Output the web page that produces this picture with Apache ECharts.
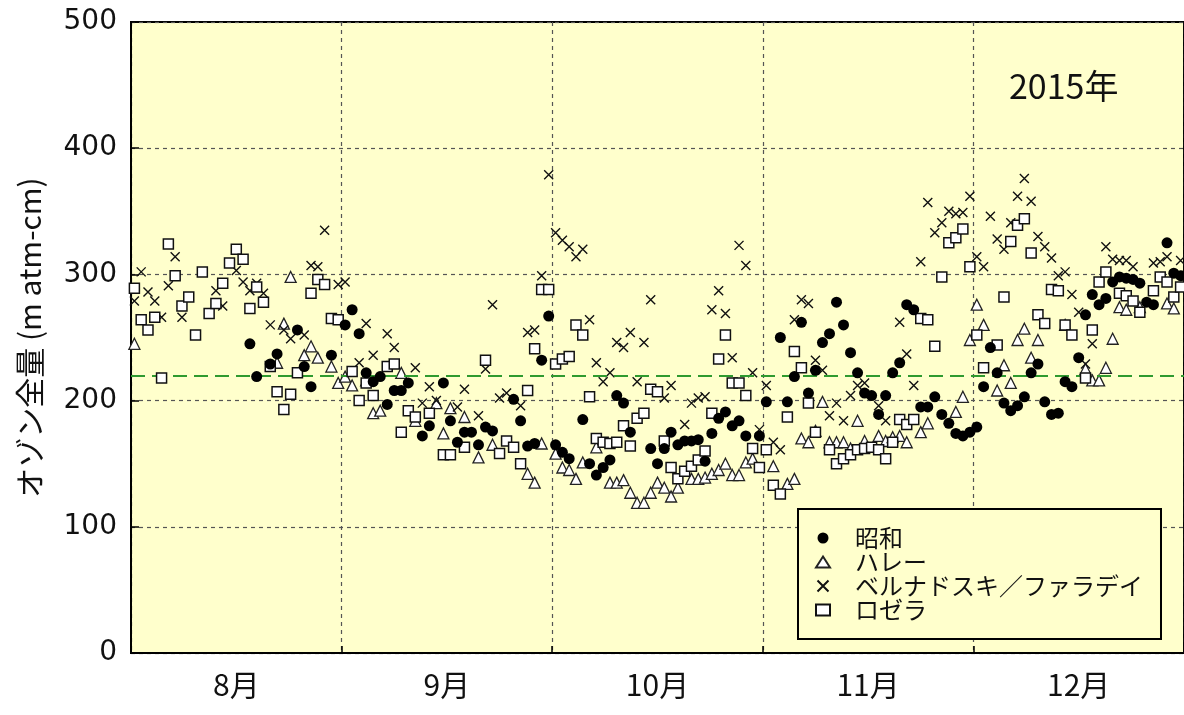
<!DOCTYPE html>
<html><head><meta charset="utf-8">
<script src="https://cdn.jsdelivr.net/npm/echarts@6/dist/echarts.min.js"></script>
<style>html,body{margin:0;padding:0;background:#fff}#c{width:1184px;height:715px}</style>
</head><body><div id="c"></div>
<script>
// month labels for the x axis (Aug..Dec 2015)
const monthLabels = ['8月','9月','10月','11月','12月'];
const monthNums = [8,9,10,11,12];
const daysIn = {8:31,9:30,10:31,11:30,12:31};
const yTicks = [0,100,200,300,400,500];
const refLevel = 220;
const yearLabel = '2015年';
const seriesNames = ['昭和','ハレー','ベルナドスキ／ファラデイ','ロゼラ'];

// [month, day, total ozone (m atm-cm)]
const showa = [
[8,18,245],[8,19,219],[8,21,229],[8,22,237],[8,25,256],[8,26,227],[8,27,211],[8,30,236],
[9,1,260],[9,2,272],[9,3,253],[9,4,222],[9,5,215],[9,6,219],[9,7,197],[9,8,208],[9,9,208],[9,10,214],[9,12,172],[9,13,180],[9,15,214],[9,16,184],[9,17,167],[9,18,175],[9,19,175],[9,20,165],[9,21,179],[9,22,176],[9,25,201],[9,26,184],[9,27,164],[9,28,166],[9,29,232],[9,30,267],
[10,1,165],[10,2,159],[10,3,154],[10,5,185],[10,6,150],[10,7,141],[10,8,147],[10,9,153],[10,10,204],[10,11,198],[10,12,175],[10,15,162],[10,16,150],[10,17,162],[10,18,175],[10,19,165],[10,20,168],[10,21,168],[10,22,169],[10,23,152],[10,24,174],[10,25,186],[10,26,191],[10,27,180],[10,28,184],[10,29,172],[10,31,172],
[11,1,199],[11,3,250],[11,4,199],[11,5,219],[11,6,262],[11,7,206],[11,8,224],[11,9,246],[11,10,253],[11,11,278],[11,12,260],[11,13,238],[11,14,222],[11,15,206],[11,16,204],[11,17,189],[11,18,204],[11,19,222],[11,20,230],[11,21,276],[11,22,272],[11,23,195],[11,24,195],[11,25,203],[11,26,189],[11,27,182],[11,28,174],[11,29,172],[11,30,175],
[12,1,179],[12,2,211],[12,3,242],[12,4,222],[12,5,198],[12,6,192],[12,7,196],[12,8,203],[12,9,222],[12,10,229],[12,11,199],[12,12,189],[12,13,190],[12,14,215],[12,15,211],[12,16,234],[12,17,268],[12,18,284],[12,19,276],[12,20,281],[12,21,294],[12,22,298],[12,23,297],[12,24,296],[12,25,293],[12,26,278],[12,27,276],[12,29,325],[12,30,301],[12,31,299]
];
const halley = [
[8,1,245],[8,22,230],[8,23,261],[8,24,298],[8,26,236],[8,27,243],[8,28,234],[8,30,227],[8,31,214],
[9,1,219],[9,2,212],[9,4,216],[9,5,190],[9,6,192],[9,9,222],[9,11,184],[9,14,198],[9,15,174],[9,16,194],[9,18,187],[9,20,155],[9,22,165],[9,27,142],[9,28,135],[9,29,166],
[10,1,158],[10,2,147],[10,3,145],[10,4,138],[10,5,151],[10,7,163],[10,9,135],[10,10,135],[10,11,137],[10,12,127],[10,13,119],[10,14,119],[10,15,127],[10,16,135],[10,17,131],[10,18,124],[10,19,131],[10,21,138],[10,22,138],[10,23,139],[10,24,142],[10,25,145],[10,26,150],[10,27,141],[10,28,141],[10,29,151],[10,30,154],
[11,2,148],[11,4,134],[11,5,138],[11,6,170],[11,7,167],[11,8,176],[11,9,199],[11,10,167],[11,11,167],[11,12,167],[11,13,162],[11,14,184],[11,15,168],[11,17,172],[11,18,168],[11,19,171],[11,20,172],[11,21,167],[11,23,175],[11,24,182],[11,28,191],[11,29,203],[11,30,248],
[12,1,276],[12,2,260],[12,4,208],[12,5,228],[12,6,214],[12,7,248],[12,8,257],[12,9,234],[12,10,248],[12,14,260],[12,17,225],[12,18,216],[12,19,216],[12,20,226],[12,21,249],[12,22,274],[12,23,272],[12,25,274],[12,29,277],[12,30,273]
];
const bern = [
[8,1,279],[8,2,302],[8,3,286],[8,4,279],[8,5,266],[8,6,291],[8,7,314],[8,8,266],[8,13,287],[8,14,275],[8,16,303],[8,17,294],[8,18,287],[8,19,293],[8,20,285],[8,21,260],[8,23,256],[8,24,249],[8,26,252],[8,27,307],[8,28,306],[8,29,335],[8,31,292],
[9,1,294],[9,3,230],[9,4,261],[9,5,236],[9,7,253],[9,8,242],[9,11,226],[9,12,198],[9,13,211],[9,14,200],[9,17,195],[9,18,209],[9,20,188],[9,21,225],[9,22,276],[9,23,202],[9,24,206],[9,26,196],[9,27,254],[9,28,256],[9,29,299],[9,30,379],
[10,1,333],[10,2,327],[10,3,322],[10,4,314],[10,5,320],[10,6,264],[10,7,230],[10,8,215],[10,9,222],[10,10,246],[10,11,242],[10,12,254],[10,13,215],[10,14,246],[10,15,280],[10,17,202],[10,18,212],[10,20,181],[10,21,198],[10,22,202],[10,23,203],[10,24,272],[10,25,287],[10,26,269],[10,27,234],[10,28,323],[10,29,307],[10,30,222],[10,31,177],
[11,1,212],[11,2,167],[11,3,161],[11,5,264],[11,6,280],[11,7,277],[11,8,232],[11,9,224],[11,10,188],[11,11,198],[11,12,184],[11,13,204],[11,14,212],[11,15,214],[11,17,196],[11,18,184],[11,20,262],[11,21,237],[11,22,212],[11,23,310],[11,24,357],[11,25,333],[11,26,341],[11,27,350],[11,28,348],[11,29,349],[11,30,362],
[12,1,314],[12,2,306],[12,3,346],[12,4,328],[12,5,320],[12,6,341],[12,7,362],[12,8,376],[12,9,358],[12,10,330],[12,11,322],[12,12,313],[12,13,299],[12,14,302],[12,15,284],[12,16,270],[12,17,229],[12,18,245],[12,20,322],[12,21,312],[12,22,311],[12,23,311],[12,24,306],[12,27,309],[12,28,310],[12,29,314],[12,31,311]
];
const rothera = [
[8,1,289],[8,2,264],[8,3,256],[8,4,266],[8,5,218],[8,6,324],[8,7,299],[8,8,275],[8,9,282],[8,10,252],[8,11,302],[8,12,269],[8,13,277],[8,14,293],[8,15,309],[8,16,320],[8,17,312],[8,18,273],[8,19,290],[8,20,278],[8,21,227],[8,22,207],[8,23,193],[8,24,205],[8,25,222],[8,27,285],[8,28,296],[8,29,292],[8,30,265],[8,31,264],
[9,2,223],[9,3,200],[9,4,214],[9,5,204],[9,7,227],[9,8,229],[9,9,175],[9,10,192],[9,11,187],[9,13,190],[9,15,157],[9,16,157],[9,18,163],[9,21,232],[9,23,158],[9,24,168],[9,25,163],[9,26,150],[9,27,208],[9,28,241],[9,29,288],[9,30,288],
[10,1,229],[10,2,233],[10,3,235],[10,4,260],[10,5,252],[10,6,203],[10,7,170],[10,8,167],[10,9,166],[10,10,167],[10,11,180],[10,12,164],[10,13,186],[10,14,190],[10,15,209],[10,16,207],[10,17,168],[10,18,147],[10,19,138],[10,20,144],[10,21,148],[10,22,153],[10,23,160],[10,24,190],[10,25,233],[10,26,252],[10,27,214],[10,28,214],[10,29,204],[10,30,162],[10,31,147],
[11,1,161],[11,2,133],[11,3,126],[11,4,187],[11,5,239],[11,6,226],[11,7,198],[11,8,175],[11,10,161],[11,11,150],[11,12,154],[11,13,157],[11,14,161],[11,15,162],[11,16,163],[11,17,161],[11,18,154],[11,19,167],[11,20,185],[11,21,181],[11,22,185],[11,23,265],[11,24,264],[11,25,243],[11,26,298],[11,27,325],[11,28,329],[11,29,336],[11,30,306],
[12,1,252],[12,2,226],[12,4,244],[12,5,282],[12,6,326],[12,7,339],[12,8,344],[12,9,317],[12,10,268],[12,11,261],[12,12,288],[12,13,287],[12,14,260],[12,15,252],[12,17,218],[12,18,256],[12,19,294],[12,20,302],[12,22,285],[12,23,283],[12,24,279],[12,25,270],[12,27,287],[12,28,298],[12,29,294],[12,30,282],[12,31,290]
];

// month-position (each month = 1 unit on the axis, Aug 1 = 0)
function toPos(arr){
  return arr.map(([m,d,v]) => [monthNums.indexOf(m) + (d-0.5)/daysIn[m], v]);
}

const chart = echarts.init(document.getElementById('c'));
const jp = '"Noto Sans CJK JP", sans-serif';
const crossPath = 'path://M0,0L10,10M10,0L0,10';

chart.setOption({
  animation:false,
  backgroundColor:'#ffffff',
  title:{text:yearLabel,left:1004,top:64,textStyle:{fontFamily:jp,fontSize:34,fontWeight:'normal',color:'#111'}},
  grid:{left:131,top:22,width:1054,height:631,show:true,backgroundColor:'#FFFFCC',borderColor:'#000',borderWidth:2},
  legend:{
    orient:'vertical',left:798,top:509,
    padding:[17,18,17,17],itemGap:0,itemWidth:14,itemHeight:11,
    backgroundColor:'#FFFFCC',borderColor:'#000',borderWidth:2,borderRadius:0,
    data:seriesNames,
    textStyle:{fontFamily:jp,fontSize:24,color:'#111',lineHeight:23,padding:[0,0,0,20]}
  },
  xAxis:[
    {type:'value',min:0,max:5,interval:1,
      axisLine:{show:true,lineStyle:{color:'#000',width:2}},
      axisTick:{show:true,inside:true,length:7,lineStyle:{color:'#000',width:1.5}},
      axisLabel:{show:false},
      splitLine:{show:true,lineStyle:{color:'#555',width:1.2,type:[4,4]}}},
    {type:'category',data:monthLabels,position:'bottom',boundaryGap:true,
      axisLine:{show:false},axisTick:{show:false},splitLine:{show:false},
      axisLabel:{fontFamily:jp,fontSize:30,color:'#111',margin:17}}
  ],
  yAxis:{type:'value',min:yTicks[0],max:yTicks[yTicks.length-1],interval:100,
    name:'オゾン全量 (m atm-cm)',nameLocation:'middle',nameRotate:90,nameGap:86,
    nameTextStyle:{fontFamily:jp,fontSize:30,color:'#111'},
    axisLine:{show:true,lineStyle:{color:'#000',width:2}},
    axisTick:{show:true,inside:true,length:8,lineStyle:{color:'#000',width:1.5}},
    axisLabel:{fontFamily:'"DejaVu Sans", sans-serif',fontSize:28,color:'#111',margin:14},
    splitLine:{show:true,lineStyle:{color:'#555',width:1.2,type:[4,4]}}},
  series:[
    {name:seriesNames[0],type:'scatter',xAxisIndex:0,z:6,data:toPos(showa),symbol:'circle',symbolSize:11,
      itemStyle:{color:'#000',opacity:1},
      markLine:{silent:true,symbol:'none',label:{show:false},
        lineStyle:{color:'#2F9A2F',width:2,type:[14,7]},data:[{yAxis:refLevel}]}},
    {name:seriesNames[1],type:'scatter',xAxisIndex:0,z:3,data:toPos(halley),symbol:'triangle',symbolSize:11,
      itemStyle:{color:'#fff',borderColor:'#222',borderWidth:1.3,opacity:1}},
    {name:seriesNames[2],type:'scatter',xAxisIndex:0,z:4,data:toPos(bern),symbol:crossPath,symbolSize:9,
      itemStyle:{color:'rgba(0,0,0,0)',borderColor:'#111',borderWidth:1.4,opacity:1}},
    {name:seriesNames[3],type:'scatter',xAxisIndex:0,z:5,data:toPos(rothera),symbol:'rect',symbolSize:10,
      itemStyle:{color:'#fff',borderColor:'#111',borderWidth:1.5,opacity:1}}
  ]
});
</script></body></html>
